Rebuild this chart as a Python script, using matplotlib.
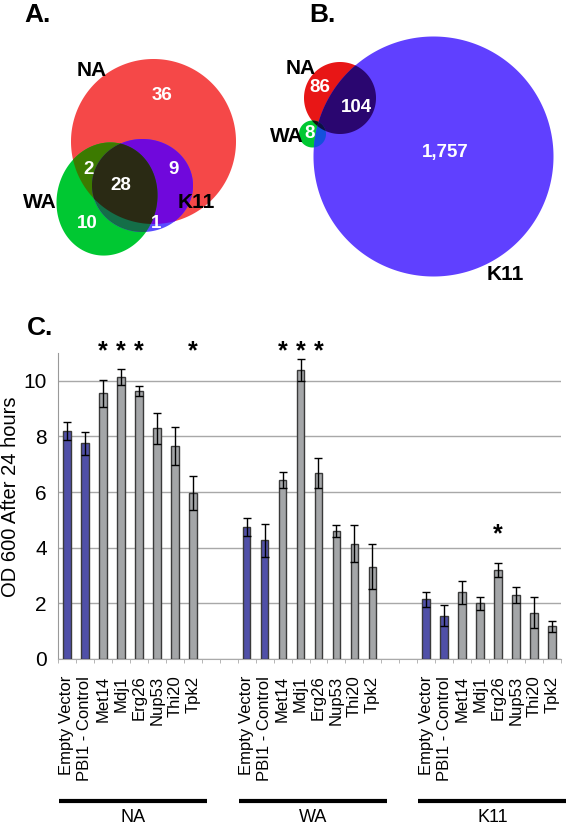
import numpy as np
import matplotlib
matplotlib.use("Agg")
from matplotlib import pyplot as plt
from matplotlib import transforms

plt.rcParams['font.family'] = ['Liberation Sans', 'DejaVu Sans']

# ---- data ----
groups = ["NA", "WA", "K11"]
strains = ["Empty Vector", "PBI1 - Control", "Met14", "Mdj1", "Erg26", "Nup53", "Thi20", "Tpk2"]
od_na = [8.20, 7.75, 9.55, 10.14, 9.62, 8.29, 7.66, 5.97]
err_na = [0.32, 0.40, 0.48, 0.30, 0.18, 0.55, 0.67, 0.60]
od_wa = [4.75, 4.27, 6.44, 10.38, 6.68, 4.61, 4.15, 3.32]
err_wa = [0.33, 0.60, 0.29, 0.40, 0.54, 0.21, 0.67, 0.80]
od_k11 = [2.14, 1.56, 2.40, 2.00, 3.19, 2.30, 1.67, 1.18]
err_k11 = [0.27, 0.37, 0.42, 0.23, 0.26, 0.28, 0.56, 0.20]
signif = {"NA": ["Met14", "Mdj1", "Erg26", "Tpk2"],
          "WA": ["Met14", "Mdj1", "Erg26"],
          "K11": ["Erg26"]}

# venn counts
venn_a = {"NA": 36, "NA_WA": 2, "ALL": 28, "NA_K11": 9, "WA": 10, "WA_K11": 1}
venn_b = {"NA": 86, "NA_K11": 104, "WA": 8, "K11": "1,757"}


def ellipse(cx, cy, w, h, ang=0.0, n=360):
    t = np.linspace(0, 2 * np.pi, n, endpoint=False)
    a = np.deg2rad(ang)
    x = w / 2 * np.cos(t)
    y = h / 2 * np.sin(t)
    return np.column_stack([cx + x * np.cos(a) - y * np.sin(a),
                            cy + x * np.sin(a) + y * np.cos(a)])


def clip(subject, clipper):
    # Sutherland-Hodgman, clipper convex, counter-clockwise
    out = list(subject)
    m = len(clipper)
    for i in range(m):
        a, b = clipper[i], clipper[(i + 1) % m]
        inp, out = out, []
        if not inp:
            break

        def inside(p):
            return (b[0] - a[0]) * (p[1] - a[1]) - (b[1] - a[1]) * (p[0] - a[0]) >= 0

        def cut(p, q):
            d1 = q - p
            d2 = b - a
            den = d1[0] * d2[1] - d1[1] * d2[0]
            s = ((a[0] - p[0]) * d2[1] - (a[1] - p[1]) * d2[0]) / den
            return p + s * d1
        s = inp[-1]
        for e in inp:
            if inside(e):
                if not inside(s):
                    out.append(cut(s, e))
                out.append(e)
            elif inside(s):
                out.append(cut(s, e))
            s = e
    return np.array(out)


def draw_venn(ax, shapes, cols):
    a, b, c = shapes
    ax.fill(*a.T, color=cols["a"], lw=0)
    ax.fill(*b.T, color=cols["b"], lw=0)
    ax.fill(*c.T, color=cols["c"], lw=0)
    ab = clip(a, b)
    ac = clip(a, c)
    bc = clip(b, c)
    for poly, k in [(ab, "ab"), (ac, "ac"), (bc, "bc")]:
        if len(poly):
            ax.fill(*poly.T, color=cols[k], lw=0)
    abc = clip(ab, c) if len(ab) else []
    if len(abc):
        ax.fill(*abc.T, color=cols["abc"], lw=0)


fig = plt.figure(figsize=(5.66, 8.27), dpi=100)

# ---- venn panels (pixel coordinates) ----
vax = fig.add_axes([0, 1 - 300 / 827, 1, 300 / 827])
vax.set_xlim(0, 566)
vax.set_ylim(300, 0)
vax.axis("off")

shapes_a = [ellipse(153.5, 141.5, 165, 165),
            ellipse(107, 199, 100, 114, 15),
            ellipse(142.5, 185.5, 101, 93)]
cols_a = {"a": "#f54848", "b": "#00c832", "c": "#5a4cff",
          "ab": "#3c7a00", "ac": "#7008dc", "bc": "#146e48", "abc": "#2a2a14"}
draw_venn(vax, shapes_a, cols_a)

shapes_b = [ellipse(340, 98, 72, 72),
            ellipse(312.5, 134, 27, 27),
            ellipse(433.5, 156.5, 240, 240)]
cols_b = {"a": "#e81616", "b": "#00c832", "c": "#6040ff",
          "ab": "#101010", "ac": "#2a0670", "bc": "#1450dc", "abc": "#101040"}
draw_venn(vax, shapes_b, cols_b)

lab = dict(fontsize=15, fontweight="bold", ha="center", va="center", color="black")
num = dict(fontsize=13.5, fontweight="bold", ha="center", va="center", color="white")
vax.text(24, 15, "A.", fontsize=19, fontweight="bold", ha="left", va="center")
vax.text(309, 15, "B.", fontsize=19, fontweight="bold", ha="left", va="center")

vax.text(92, 70, "NA", **lab)
vax.text(40, 203, "WA", **lab)
vax.text(196, 202, "K11", **lab)
vax.text(162, 96, str(venn_a["NA"]), **num)
vax.text(89, 170, str(venn_a["NA_WA"]), **num)
vax.text(121, 186, str(venn_a["ALL"]), **num)
vax.text(174, 170, str(venn_a["NA_K11"]), **num)
vax.text(87, 224, str(venn_a["WA"]), **num)
vax.text(156, 224, str(venn_a["WA_K11"]), **num)

vax.text(301, 68, "NA", **lab)
vax.text(304, 136, "WA", **{**lab, "ha": "right"})
vax.text(505, 275, "K11", **lab)
vax.text(320, 87, str(venn_b["NA"]), **num)
vax.text(356, 107, str(venn_b["NA_K11"]), **num)
vax.text(310, 133, str(venn_b["WA"]), **num)
vax.text(445, 152, venn_b["K11"], **num)

# ---- bar chart ----
ax = fig.add_axes([58 / 566, 1 - 659 / 827, 503 / 566, 306 / 827])
vals = [od_na, od_wa, od_k11]
errs = [err_na, err_wa, err_k11]
centers, labels = [], []
for g, name in enumerate(groups):
    x = g * 10 + np.arange(len(strains)) + 0.5
    colors = ["#5050a8", "#5050a8"] + ["#a4a6a8"] * (len(strains) - 2)
    ax.bar(x, vals[g], width=0.42, color=colors, edgecolor="#3a3a3a", lw=1, zorder=3)
    ax.errorbar(x, vals[g], yerr=errs[g], fmt="none", ecolor="black",
                elinewidth=1, capsize=3, capthick=1, zorder=4)
    for s in signif[name]:
        i = strains.index(s)
        ytop = 11.05 if name != "K11" else 4.5
        ax.text(x[i], ytop, "*", fontsize=18, fontweight="bold",
                ha="center", va="center", clip_on=False)
    centers += list(x)
    labels += strains

ax.set_xlim(0, 28)
ax.set_ylim(0, 11)
ax.set_yticks([0, 2, 4, 6, 8, 10])
ax.tick_params(axis="y", length=0, labelsize=15, pad=8)
ax.set_xticks(centers)
ax.set_xticklabels(labels, rotation=90, fontsize=12, va="top")
ax.set_xticks(np.arange(0, 29), minor=True)
ax.tick_params(axis="x", which="major", length=0, pad=12)
ax.tick_params(axis="x", which="minor", length=3, color="#aaaaaa")
ax.grid(axis="y", color="#a8a8a8", lw=1, zorder=0)
for sp in ["top", "right"]:
    ax.spines[sp].set_visible(False)
ax.spines["left"].set_color("#999999")
ax.spines["bottom"].set_color("#aaaaaa")

trans = transforms.blended_transform_factory(ax.transData, fig.transFigure)
for g, name in enumerate(groups):
    ax.plot([g * 10 + 0.05, g * 10 + 8.3], [1 - 801 / 827] * 2, color="black",
            lw=3, transform=trans, clip_on=False, solid_capstyle="butt")
    ax.text(g * 10 + 4.2, 1 - 817 / 827, name, transform=trans,
            ha="center", va="center", fontsize=13)

fig.text(11 / 566, 1 - 497 / 827, "OD 600 After 24 hours", rotation=90,
         ha="center", va="center", fontsize=14.5)
fig.text(27 / 566, 1 - 328 / 827, "C.", fontsize=19, fontweight="bold",
         ha="left", va="center")

fig.savefig("out.png", dpi=100)
